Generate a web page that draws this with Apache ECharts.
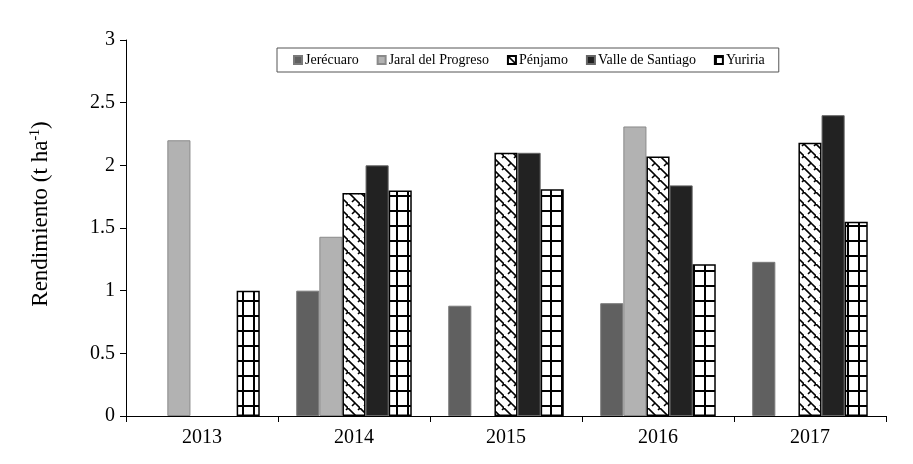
<!DOCTYPE html>
<html>
<head>
<meta charset="utf-8">
<script src="https://cdn.jsdelivr.net/npm/echarts@6/dist/echarts.min.js"></script>
<style>html,body{margin:0;padding:0;background:#fff;}#c{width:913px;height:464px;}</style>
</head>
<body>
<div id="c"></div>
<script>
const years = ['2013', '2014', '2015', '2016', '2017'];
const seriesNames = ['Jerécuaro', 'Jaral del Progreso', 'Pénjamo', 'Valle de Santiago', 'Yuriria'];
const jerecuaro = [null, 1.00, 0.88, 0.90, 1.23];
const jaral = [2.20, 1.43, null, 2.31, null];
const penjamo = [null, 1.78, 2.10, 2.07, 2.18];
const valle = [null, 2.00, 2.10, 1.84, 2.40];
const yuriria = [1.00, 1.80, 1.81, 1.21, 1.55];
const yTicks = [0, 0.5, 1, 1.5, 2, 2.5, 3];

function weavePattern() {
  const c = document.createElement('canvas');
  c.width = 12; c.height = 12;
  const g = c.getContext('2d');
  g.fillStyle = '#fff'; g.fillRect(0, 0, 12, 12);
  g.strokeStyle = '#000'; g.lineWidth = 1.6; g.lineCap = 'butt';
  g.beginPath();
  g.moveTo(0, 0); g.lineTo(7, 7); g.lineTo(4, 10);
  g.moveTo(7, 7); g.lineTo(12, 12);
  g.moveTo(10, 2); g.lineTo(12, 0);
  g.stroke();
  return c;
}
function gridPattern() {
  const c = document.createElement('canvas');
  c.width = 11; c.height = 15;
  const g = c.getContext('2d');
  g.fillStyle = '#fff'; g.fillRect(0, 0, 11, 15);
  g.fillStyle = '#000';
  g.fillRect(0, 0, 11, 2);
  g.fillRect(0, 0, 2, 15);
  return c;
}

const styles = [
  { color: '#606060', borderColor: '#7a7a7a', borderWidth: 1 },
  { color: '#b2b2b2', borderColor: '#8a8a8a', borderWidth: 1 },
  { color: { image: weavePattern(), repeat: 'repeat' }, borderColor: '#000', borderWidth: 1.5 },
  { color: '#222222', borderColor: '#666', borderWidth: 1 },
  { color: { image: gridPattern(), repeat: 'repeat' }, borderColor: '#000', borderWidth: 1.5 }
];
const dataArr = [jerecuaro, jaral, penjamo, valle, yuriria];

const chart = echarts.init(document.getElementById('c'), null, { renderer: 'canvas' });
const font = 'Liberation Serif, Times New Roman, serif';
chart.setOption({
  animation: false,
  textStyle: { fontFamily: font },
  grid: { left: 126, right: 27, top: 40, bottom: 48 },
  legend: {
    left: 277, top: 48,
    padding: [5, 14, 5, 16],
    borderColor: '#555', borderWidth: 1,
    itemWidth: 8, itemHeight: 8, itemGap: 18,
    icon: 'rect',
    textStyle: { fontFamily: font, fontSize: 14, color: '#000', padding: [0, 0, 0, -2] },
    data: seriesNames
  },
  xAxis: {
    type: 'category',
    data: years,
    axisLine: { lineStyle: { color: '#000', width: 1 } },
    axisTick: { show: true, length: 6, lineStyle: { color: '#000' } },
    axisLabel: { color: '#000', fontSize: 20, fontFamily: font, margin: 12 }
  },
  yAxis: {
    type: 'value',
    min: 0, max: 3, interval: 0.5,
    name: '{a|Rendimiento (t ha}{s|-1}{a|)}',
    nameLocation: 'middle',
    nameGap: 72,
    nameRotate: 90,
    nameTextStyle: {
      padding: [0, 0, 0, 28],
      rich: {
        a: { fontSize: 23, fontFamily: font, color: '#000', lineHeight: 26 },
        s: { fontSize: 14, fontFamily: font, color: '#000', verticalAlign: 'top', lineHeight: 26 }
      }
    },
    axisLine: { show: true, lineStyle: { color: '#000', width: 1 } },
    axisTick: { show: true, length: 6, lineStyle: { color: '#000' } },
    splitLine: { show: false },
    axisLabel: {
      color: '#000', fontSize: 20, fontFamily: font, margin: 11,
      formatter: v => yTicks.includes(v) ? String(v) : ''
    }
  },
  series: seriesNames.map((n, i) => ({
    name: n,
    type: 'bar',
    data: dataArr[i],
    barGap: '0%',
    barCategoryGap: '24%',
    itemStyle: styles[i]
  }))
});
</script>
</body>
</html>
